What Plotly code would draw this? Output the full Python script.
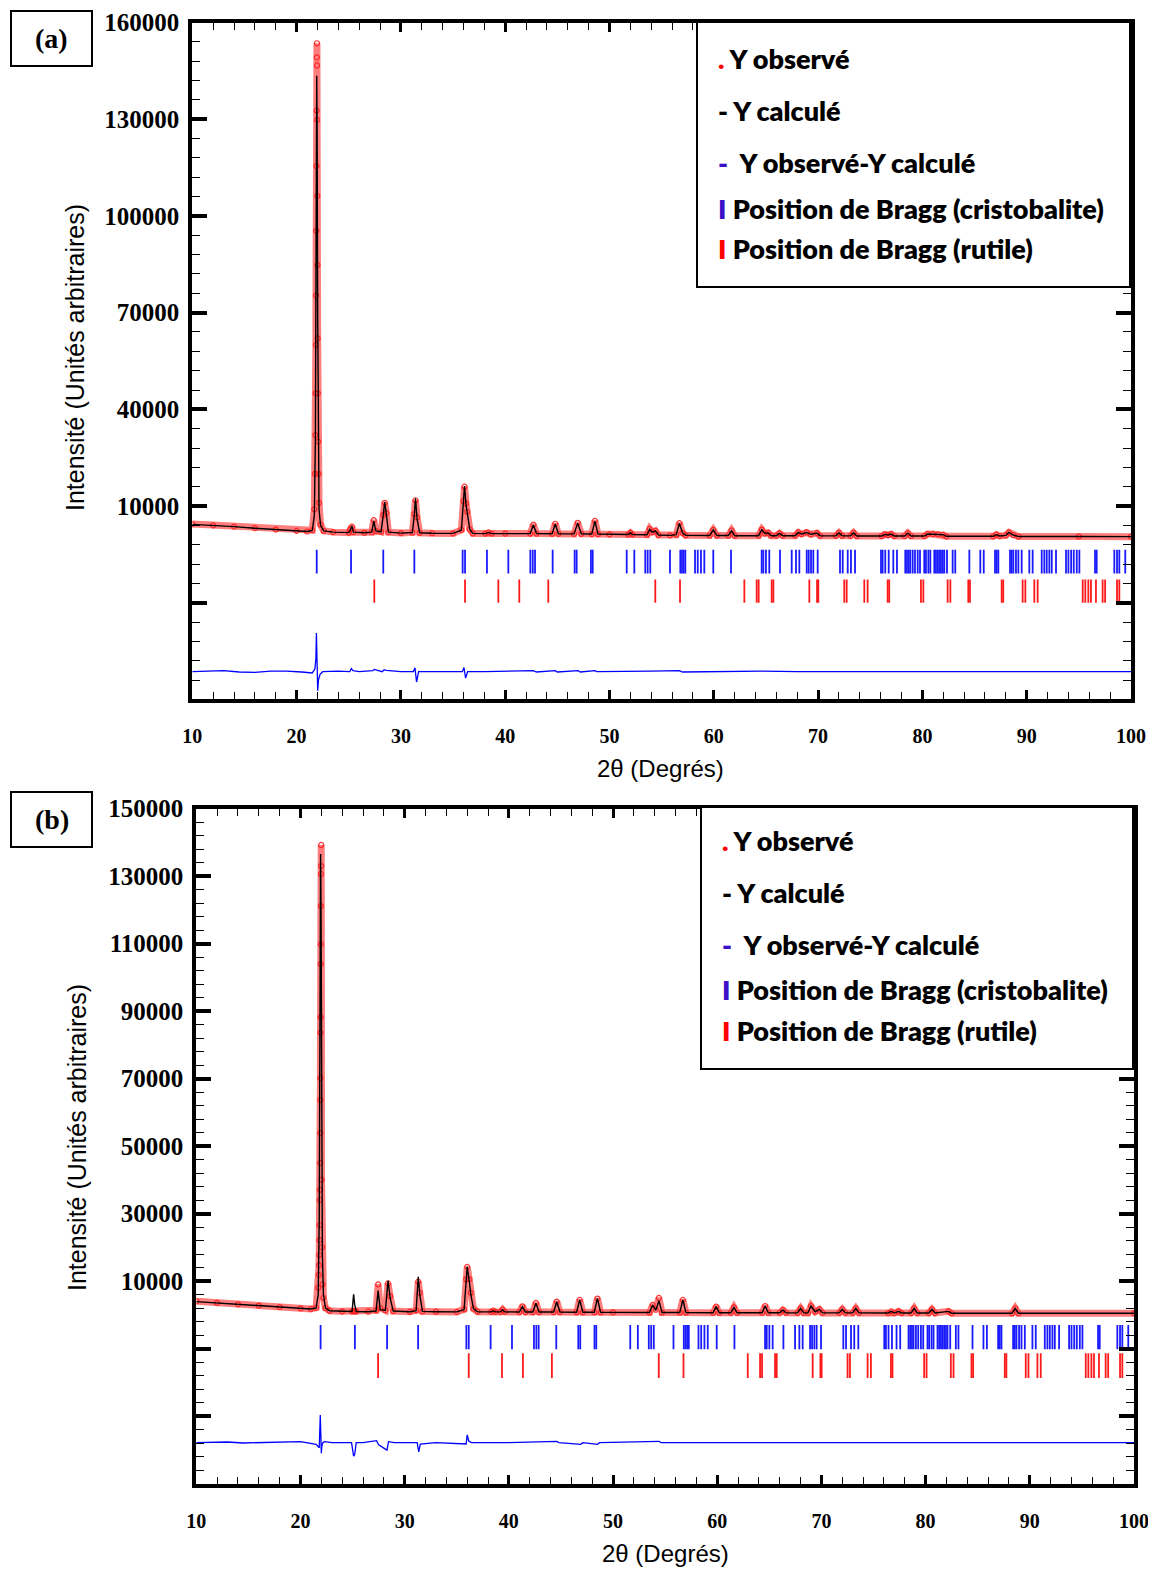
import plotly.graph_objects as go

W, H = 1156, 1573
PAGE_OFFSET = 8  # default browser body margin (px) that shifts the figure

# ---------------- DATA (2theta in degrees, intensity in arbitrary units) ----------------
# Panel (a): calculated profile
CALC_A = [(10, 4300), (12, 4000), (14, 3600), (16, 3100), (18, 2700), (20, 2300), (21.0, 2100),
          (21.5, 2400), (21.7, 7000), (21.8, 30000), (21.87, 95000), (21.93, 143500), (21.97, 125000),
          (22.02, 70000), (22.08, 25000), (22.15, 9000), (22.3, 4000), (22.6, 2300), (23.5, 1900),
          (25.0, 1750), (25.15, 2500), (25.3, 3900), (25.45, 1900), (26.5, 1700), (27.2, 1900),
          (27.4, 5300), (27.6, 2300), (28.1, 2000), (28.3, 7000), (28.45, 11300), (28.6, 7500),
          (28.8, 1900), (30.0, 1600), (31.1, 1800), (31.28, 7000), (31.4, 12400), (31.55, 6000),
          (31.8, 1700), (33.0, 1550), (35.0, 1500), (35.8, 2500), (36.0, 11000), (36.1, 16200),
          (36.25, 10300), (36.35, 8000), (36.6, 2800), (36.9, 1500), (38.1, 1450), (38.4, 1800),
          (38.7, 1450), (40.0, 1450), (42.4, 1450), (42.7, 4100), (43.0, 1450), (44.5, 1400),
          (44.8, 4400), (45.1, 1400), (46.6, 1350), (46.95, 4700), (47.3, 1350), (48.3, 1300),
          (48.6, 5300), (48.9, 1300), (50.0, 1200), (51.8, 1150), (52.0, 1700), (52.2, 1150),
          (53.6, 1100), (53.85, 2800), (54.1, 1900), (54.4, 2300), (54.7, 1000), (55.8, 900),
          (56.4, 1100), (56.7, 4600), (57.0, 1700), (57.3, 900), (59.6, 850), (59.95, 2600),
          (60.3, 850), (61.4, 850), (61.7, 2300), (62.0, 800), (64.3, 800), (64.6, 2700),
          (64.9, 1500), (65.2, 1700), (65.5, 800), (66.0, 800), (66.3, 1500), (66.6, 800),
          (67.8, 800), (68.1, 1800), (68.4, 1300), (68.9, 1800), (69.3, 1200), (69.9, 1600),
          (70.2, 750), (71.7, 750), (72.0, 1700), (72.3, 750), (73.1, 750), (73.4, 1700),
          (73.7, 700), (76.1, 700), (76.4, 1200), (76.7, 1000), (77.0, 1300), (77.3, 700),
          (78.3, 700), (78.6, 1600), (78.9, 700), (80.2, 700), (80.5, 1300), (81.0, 1300),
          (81.5, 1200), (82.0, 1100), (82.3, 600), (86.8, 600), (87.1, 1100), (87.4, 700),
          (88.0, 900), (88.3, 1800), (88.7, 1000), (89.2, 550), (95.0, 550), (100.0, 500)]

# Panel (a): observed points
OBS_A = [(10, 4400), (12, 4000), (14, 3600), (16, 3150), (18, 2700), (20, 2300), (21.0, 2100),
         (21.5, 2500), (21.7, 9000), (21.76, 20000), (21.8, 32000), (21.83, 45000), (21.85, 60000),
         (21.86, 75300), (21.88, 95400), (21.9, 115500), (21.92, 132700), (21.94, 149200),
         (21.95, 153600), (21.96, 146700), (21.97, 129800), (21.99, 106200), (22.0, 84800),
         (22.02, 62000), (22.04, 45000), (22.07, 30000), (22.1, 20000), (22.15, 11000),
         (22.3, 4200), (22.6, 2300), (23.5, 1900), (25.0, 1750), (25.15, 2700), (25.3, 3600),
         (25.45, 1900), (26.5, 1700), (27.2, 1900), (27.4, 5600), (27.6, 2300), (28.1, 2000),
         (28.3, 7200), (28.45, 11000), (28.6, 7800), (28.8, 1900), (30.0, 1600), (31.1, 1800),
         (31.28, 7500), (31.4, 11800), (31.55, 6500), (31.8, 1700), (33.0, 1550), (35.0, 1500),
         (35.8, 2600), (36.0, 11500), (36.1, 16000), (36.25, 10800), (36.35, 8200), (36.6, 2800),
         (36.9, 1500), (38.1, 1450), (38.4, 1800), (38.7, 1450), (40.0, 1450), (42.4, 1450),
         (42.7, 4200), (43.0, 1450), (44.5, 1400), (44.8, 4500), (45.1, 1400), (46.6, 1350),
         (46.95, 4800), (47.3, 1350), (48.3, 1300), (48.6, 5400), (48.9, 1300), (50.0, 1200),
         (51.8, 1150), (52.0, 1700), (52.2, 1150), (53.6, 1100), (53.85, 2900), (54.1, 1900),
         (54.4, 2300), (54.7, 1000), (55.8, 900), (56.4, 1100), (56.7, 4700), (57.0, 1700),
         (57.3, 900), (59.6, 850), (59.95, 2600), (60.3, 850), (61.4, 850), (61.7, 2400),
         (62.0, 800), (64.3, 800), (64.6, 2700), (64.9, 1500), (65.2, 1700), (65.5, 800),
         (66.0, 800), (66.3, 1500), (66.6, 800), (67.8, 800), (68.1, 1800), (68.4, 1300),
         (68.9, 1800), (69.3, 1200), (69.9, 1600), (70.2, 750), (71.7, 750), (72.0, 1700),
         (72.3, 750), (73.1, 750), (73.4, 1700), (73.7, 700), (76.1, 700), (76.4, 1200),
         (76.7, 1000), (77.0, 1300), (77.3, 700), (78.3, 700), (78.6, 1600), (78.9, 700),
         (80.2, 700), (80.5, 1300), (81.0, 1300), (81.5, 1200), (82.0, 1100), (82.3, 600),
         (86.8, 600), (87.1, 1100), (87.4, 700), (88.0, 900), (88.3, 1800), (88.7, 1000),
         (89.2, 550), (95.0, 550), (100.0, 500)]

# Panel (a): difference Yobs - Ycalc
DIFF_A = [(10, 0), (11.5, 150), (13, 300), (14.5, -100), (16, -200), (17.5, 150), (19, 200),
          (20.5, -100), (21.5, -400), (21.75, 800), (21.85, 4000), (21.9, 12000), (21.93, 7000),
          (21.97, -3000), (22.02, -5900), (22.1, -2500), (22.25, -800), (22.5, 0), (24.0, 200),
          (25.1, 0), (25.25, 1000), (25.4, 300), (26.0, 0), (27.3, 300), (27.45, 700), (28.2, 0),
          (28.4, 600), (28.6, 400), (30.0, 0), (31.2, 0), (31.35, 1200), (31.5, -3200), (31.7, 0),
          (33.0, 0), (35.9, 0), (36.05, 1300), (36.2, -2000), (36.4, 0), (38.0, 0), (42.7, 300),
          (43.0, -100), (44.8, 300), (45.0, -100), (47.0, 300), (47.2, -100), (48.6, 300),
          (48.8, 0), (54.0, 200), (56.7, 300), (57.0, -100), (60.0, 0), (64.6, 200), (68.0, 0),
          (75.0, 0), (85.0, 0), (100.0, 0)]

# Panel (b): calculated profile
CALC_B = [(10, 3900), (12, 3500), (14, 3100), (16, 2700), (18, 2300), (20, 1900), (21.0, 1700),
          (21.5, 2000), (21.7, 6000), (21.8, 28000), (21.87, 90000), (21.93, 136500), (21.98, 115000),
          (22.03, 60000), (22.1, 18000), (22.2, 6000), (22.4, 2000), (22.8, 1200), (24.0, 1000),
          (24.95, 950), (25.1, 6060), (25.2, 3000), (25.35, 950), (26.5, 900), (27.25, 1100),
          (27.45, 7130), (27.65, 1500), (28.15, 1300), (28.4, 10090), (28.6, 5000), (28.9, 1100),
          (30.5, 900), (31.1, 1200), (31.3, 11270), (31.45, 6000), (31.7, 1000), (33.0, 900),
          (35.0, 850), (35.7, 1500), (35.9, 10000), (36.0, 14240), (36.2, 10000), (36.35, 6000),
          (36.6, 1800), (37.0, 900), (38.3, 850), (38.5, 1200), (38.7, 850), (39.2, 850),
          (39.4, 1500), (39.6, 850), (41.0, 800), (41.3, 2400), (41.6, 800), (42.3, 800),
          (42.6, 3400), (42.9, 800), (44.3, 800), (44.6, 3870), (44.9, 800), (46.5, 750),
          (46.8, 4370), (47.1, 750), (48.2, 750), (48.5, 4870), (48.8, 750), (50.0, 700),
          (53.5, 650), (53.8, 2890), (54.1, 1300), (54.4, 4170), (54.7, 650), (56.4, 650),
          (56.7, 4370), (57.0, 650), (59.6, 600), (59.9, 2400), (60.2, 600), (61.3, 600),
          (61.6, 2200), (61.9, 600), (64.3, 600), (64.6, 2600), (64.9, 600), (66.0, 600),
          (66.3, 1400), (66.6, 600), (67.7, 550), (68.0, 1900), (68.3, 550), (68.7, 550),
          (69.0, 2600), (69.4, 900), (69.8, 1600), (70.1, 550), (71.7, 550), (72.0, 1600),
          (72.3, 550), (73.0, 550), (73.3, 1900), (73.6, 550), (76.4, 500), (76.7, 1000),
          (77.0, 500), (77.4, 1000), (77.7, 500), (78.6, 500), (78.9, 1900), (79.2, 500),
          (80.3, 500), (80.6, 1600), (80.9, 500), (82.2, 1000), (82.5, 450), (88.3, 450),
          (88.6, 1900), (88.9, 450), (100.0, 430)]

# Panel (b): observed points
OBS_B = [(10, 4000), (12, 3500), (14, 3100), (16, 2700), (18, 2300), (20, 1900), (21.0, 1700),
         (21.5, 2100), (21.7, 8000), (21.76, 11800), (21.78, 14700), (21.8, 17700), (21.82, 22100),
         (21.84, 26600), (21.86, 34000), (21.87, 37000), (21.88, 45000), (21.89, 53800),
         (21.9, 63600), (21.91, 70100), (21.92, 83600), (21.93, 88200), (21.94, 103900),
         (21.95, 109800), (21.96, 121100), (21.97, 130600), (21.98, 132960), (21.99, 139200),
         (22.02, 40000), (22.06, 20000), (22.12, 9000), (22.2, 5000), (22.4, 2000), (22.8, 1200),
         (24.0, 1000), (24.95, 950), (25.1, 1100), (25.2, 1000), (25.35, 950), (26.5, 900),
         (27.25, 1300), (27.45, 9000), (27.65, 2000), (28.15, 1300), (28.4, 9300), (28.6, 5500),
         (28.9, 1100), (30.5, 900), (31.1, 1300), (31.3, 9800), (31.45, 6500), (31.7, 1000),
         (33.0, 900), (35.0, 850), (35.7, 1600), (35.9, 10500), (36.0, 14200), (36.2, 10500),
         (36.35, 6500), (36.6, 1800), (37.0, 900), (38.3, 850), (38.5, 1200), (38.7, 850),
         (39.2, 850), (39.4, 1500), (39.6, 850), (41.0, 800), (41.3, 2500), (41.6, 800),
         (42.3, 800), (42.6, 3500), (42.9, 800), (44.3, 800), (44.6, 3900), (44.9, 800),
         (46.5, 750), (46.8, 4400), (47.1, 750), (48.2, 750), (48.5, 4800), (48.8, 750),
         (50.0, 700), (53.5, 650), (53.8, 2900), (54.1, 1500), (54.4, 5000), (54.7, 650),
         (56.4, 650), (56.7, 4400), (57.0, 650), (59.6, 600), (59.9, 2400), (60.2, 600),
         (61.3, 600), (61.6, 2200), (61.9, 600), (64.3, 600), (64.6, 2600), (64.9, 600),
         (66.0, 600), (66.3, 1400), (66.6, 600), (67.7, 550), (68.0, 1900), (68.3, 550),
         (68.7, 550), (69.0, 2600), (69.4, 900), (69.8, 1600), (70.1, 550), (71.7, 550),
         (72.0, 1600), (72.3, 550), (73.0, 550), (73.3, 1900), (73.6, 550), (76.4, 500),
         (76.7, 1000), (77.0, 500), (77.4, 1000), (77.7, 500), (78.6, 500), (78.9, 1900),
         (79.2, 500), (80.3, 500), (80.6, 1600), (80.9, 500), (82.2, 1000), (82.5, 450),
         (88.3, 450), (88.6, 1900), (88.9, 450), (100.0, 430)]

# Panel (b): difference Yobs - Ycalc
DIFF_B = [(10, 0), (11.5, 200), (13, 200), (14.5, -100), (16, 0), (18, 250), (20, 300),
          (21.5, -500), (21.8, -1500), (21.9, 8200), (21.95, 2000), (22.0, -3100), (22.05, -1000),
          (22.15, 0), (22.3, 300), (23.0, 0), (24.9, 0), (25.1, -4000), (25.2, -3500), (25.35, 0),
          (26.0, 0), (27.3, 600), (27.5, -600), (28.3, -2200), (28.45, 300), (29.0, 0), (31.2, 0),
          (31.35, -2700), (31.5, -400), (33.0, 0), (35.9, -400), (36.0, 2300), (36.15, 500),
          (36.4, 0), (40.0, 0), (44.6, 400), (44.8, 0), (46.9, -500), (47.1, 0), (48.5, -500),
          (48.7, 0), (54.2, 500), (54.4, 400), (54.6, 0), (60.0, 0), (70.0, 0), (100.0, 0)]

# Bragg reflection positions (2theta)
CRISTOBALITE = [21.93, 25.22, 28.31, 31.29, 35.92, 36.15, 38.25, 40.3, 42.41, 42.64, 42.86, 44.55,
                46.66, 46.85, 48.22, 48.39, 51.65, 52.38, 53.43, 53.66, 53.91, 55.80, 56.79, 56.95,
                57.11, 57.27, 58.20, 58.46, 58.77, 59.09, 59.95, 61.65, 64.59, 64.75, 65.0, 65.32,
                66.35, 67.47, 67.88, 68.2, 68.91, 69.1, 69.32, 69.54, 69.96, 72.1, 72.36, 72.84,
                73.15, 73.54, 76.03, 76.19, 76.44, 76.77, 77.21, 77.56, 78.36, 78.52, 78.69, 78.84,
                79.07, 79.29, 79.55, 79.77, 80.18, 80.34, 80.57, 80.76, 81.14, 81.3, 81.47, 81.62,
                81.78, 81.95, 82.1, 82.36, 82.9, 83.15, 84.5, 85.55, 85.88, 86.96, 87.12, 87.28,
                88.4, 88.56, 88.72, 88.97, 89.2, 89.52, 90.25, 90.57, 91.44, 91.69, 91.92, 92.17,
                92.4, 92.81, 93.77, 94.0, 94.26, 94.51, 94.8, 95.05, 96.55, 96.71, 98.4, 98.66,
                98.88, 99.45]
RUTILE = [27.45, 36.15, 39.34, 41.35, 44.13, 54.39, 56.76, 62.93, 64.11, 64.3, 65.55, 65.71,
          69.16, 69.9, 70.02, 72.51, 72.74, 74.43, 74.75, 76.67, 76.82, 79.86, 80.09, 82.42,
          82.68, 84.4, 84.56, 87.6, 87.75, 89.61, 89.87, 90.73, 91.05, 95.37, 95.62, 95.91,
          96.16, 96.64, 97.28, 97.52, 98.66, 98.88]

# Axis tick labels
YTICKS_A = [-50000, -20000, 10000, 40000, 70000, 100000, 130000, 160000]
YTICKS_B = [-50000, -30000, -10000, 10000, 30000, 50000, 70000, 90000, 110000, 130000, 150000]
XTICKS = [10, 20, 30, 40, 50, 60, 70, 80, 90, 100]

LEGEND_ITEMS = [(".", "red", "Y observé"), ("-", "black", "Y calculé"),
                ("-", "#3a10c8", " Y observé-Y calculé"),
                ("I", "#3a10c8", "Position de Bragg (cristobalite)"),
                ("I", "red", "Position de Bragg (rutile)")]

# ---------------- helpers ----------------
def fx(px):
    return (px - PAGE_OFFSET) / W


def fy(py):
    return 1 - (py - PAGE_OFFSET) / H


def unzip(pairs):
    return [p[0] for p in pairs], [p[1] for p in pairs]


def segments(pos, lo, hi):
    xs, ys = [], []
    for p in pos:
        xs += [p, p, None]
        ys += [lo, hi, None]
    return xs, ys


fig = go.Figure()

panels = [
    dict(calc=CALC_A, obs=OBS_A, diff=DIFF_A, diff_off=-41400, blue=(-10900, -3600), red=(-20000, -12800),
         xa="x", ya="y"),
    dict(calc=CALC_B, obs=OBS_B, diff=DIFF_B, diff_off=-37900, blue=(-10240, -3040), red=(-18740, -11420),
         xa="x2", ya="y2"),
]

for p in panels:
    ox, oy = unzip(p["obs"])
    cx, cy = unzip(p["calc"])
    dx, dy = unzip(p["diff"])
    # observed band
    fig.add_trace(go.Scatter(x=ox, y=oy, mode="lines", xaxis=p["xa"], yaxis=p["ya"],
                             line=dict(color="rgba(255,40,40,0.6)", width=7), hoverinfo="skip"))
    fig.add_trace(go.Scatter(x=ox, y=oy, mode="markers", xaxis=p["xa"], yaxis=p["ya"],
                             marker=dict(symbol="circle-open", size=5, color="rgba(255,30,30,0.9)",
                                         line=dict(width=1.2, color="rgba(255,30,30,0.9)"))))
    # calculated
    fig.add_trace(go.Scatter(x=cx, y=cy, mode="lines", xaxis=p["xa"], yaxis=p["ya"],
                             line=dict(color="black", width=1.4)))
    # difference
    fig.add_trace(go.Scatter(x=dx, y=[v + p["diff_off"] for v in dy], mode="lines",
                             xaxis=p["xa"], yaxis=p["ya"], line=dict(color="#0000ff", width=1.3)))
    # Bragg positions
    bx, by = segments(CRISTOBALITE, *p["blue"])
    fig.add_trace(go.Scatter(x=bx, y=by, mode="lines", xaxis=p["xa"], yaxis=p["ya"],
                             line=dict(color="#1a1aff", width=1.8)))
    rx, ry = segments(RUTILE, *p["red"])
    fig.add_trace(go.Scatter(x=rx, y=ry, mode="lines", xaxis=p["xa"], yaxis=p["ya"],
                             line=dict(color="#ff1a1a", width=1.8)))

tickfont_x = dict(family="Liberation Serif", size=20, color="black", weight="bold")
tickfont_y = dict(family="Liberation Serif", size=25, color="black", weight="bold")


def xaxis(domain, anchor):
    return dict(domain=domain, anchor=anchor, range=[10, 100], showline=True, linewidth=4,
                linecolor="black", mirror="allticks", ticks="inside", ticklen=9, tickwidth=3,
                tickcolor="black", tickmode="array", tickvals=XTICKS,
                ticktext=[str(v) for v in XTICKS], automargin=False,
                minor=dict(ticks="inside", ticklen=7, tickwidth=1.3, tickcolor="black",
                           tickmode="linear", tick0=10, dtick=2),
                showgrid=False, zeroline=False, tickfont=tickfont_x, ticklabelstandoff=16)


def yaxis(domain, anchor, rng, vals, minor_dtick):
    return dict(domain=domain, anchor=anchor, range=rng, showline=True, linewidth=4,
                linecolor="black", mirror="allticks", ticks="inside", ticklen=15, tickwidth=4,
                tickcolor="black", tickmode="array", tickvals=vals, automargin=False,
                ticktext=[str(v) if v > 0 else "" for v in vals],
                minor=dict(ticks="inside", ticklen=8, tickwidth=1.3, tickcolor="black",
                           tickmode="linear", tick0=10000, dtick=minor_dtick),
                showgrid=False, zeroline=False, tickfont=tickfont_y, ticklabelstandoff=4)


fig.update_layout(
    width=W, height=H, margin=dict(l=0, r=0, t=0, b=0, pad=0, autoexpand=False),
    paper_bgcolor="white", plot_bgcolor="white", showlegend=False,
    xaxis=xaxis([fx(192.3), fx(1131)], "y"),
    yaxis=yaxis([fy(699.4), fy(22.6)], "x", [-50000, 160000], YTICKS_A, 6000),
    xaxis2=xaxis([fx(196.3), fx(1134)], "y2"),
    yaxis2=yaxis([fy(1483.5), fy(808.5)], "x2", [-50000, 150000], YTICKS_B, 4000),
)

shapes = []
annotations = []
# panel labels
for (x0, y0, x1, y1, lab) in [(11, 11, 92, 66, "(a)"), (11, 792, 92, 847, "(b)")]:
    shapes.append(dict(type="rect", xref="paper", yref="paper", x0=fx(x0), x1=fx(x1),
                       y0=fy(y1), y1=fy(y0), line=dict(color="black", width=2)))
    annotations.append(dict(text="<b>%s</b>" % lab, xref="paper", yref="paper",
                            x=fx((x0 + x1) / 2), y=fy((y0 + y1) / 2), showarrow=False,
                            xanchor="center", yanchor="middle",
                            font=dict(family="Liberation Serif", size=28, color="black")))

# legend boxes
for (x0, y0, x1, y1, sx, rows) in [(697, 22, 1130, 287, 716, [58, 111, 163, 208, 249]),
                                    (701, 807, 1133, 1069, 720, [841, 893, 945, 990, 1031])]:
    shapes.append(dict(type="rect", xref="paper", yref="paper", x0=fx(x0), x1=fx(x1),
                       y0=fy(y1), y1=fy(y0), line=dict(color="black", width=2),
                       fillcolor="white", layer="above"))
    for (sym, col, txt), ry in zip(LEGEND_ITEMS, rows):
        annotations.append(dict(
            text="<span style='color:%s'>%s</span> %s" % (col, sym, txt),
            xref="paper", yref="paper", x=fx(sx), y=fy(ry), showarrow=False,
            xanchor="left", yanchor="middle",
            font=dict(family="Lato", size=27, color="black", weight=800)))

# axis titles
for (tx, ty) in [(660, 768), (666, 1553)]:
    annotations.append(dict(text="2θ (Degrés)", xref="paper", yref="paper", x=fx(tx), y=fy(ty),
                            showarrow=False, xanchor="center", yanchor="middle",
                            font=dict(family="Liberation Sans", size=24, color="black")))
for (tx, ty) in [(75, 358), (77, 1138)]:
    annotations.append(dict(text="Intensité (Unités arbitraires)", xref="paper", yref="paper",
                            x=fx(tx), y=fy(ty), showarrow=False, textangle=-90,
                            xanchor="center", yanchor="middle",
                            font=dict(family="Liberation Sans", size=25, color="black")))

fig.update_layout(shapes=shapes, annotations=annotations)
fig.write_html("out.html")
